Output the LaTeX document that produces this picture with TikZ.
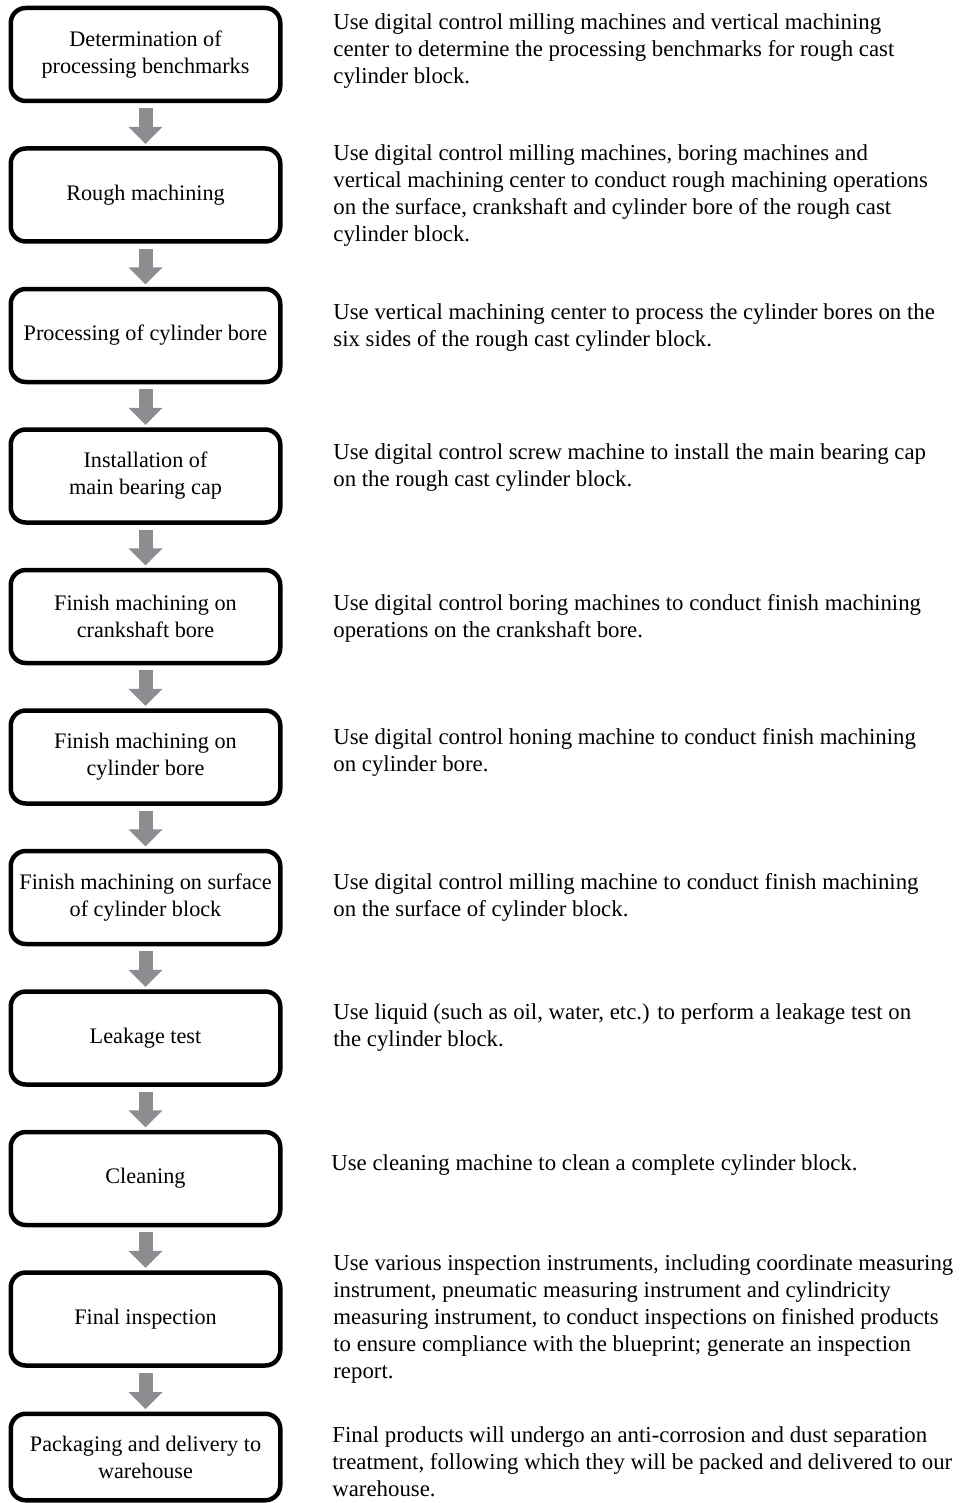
\documentclass[tikz,border=0pt]{standalone}
\usepackage{fontspec}
\setmainfont{Liberation Serif}
\usetikzlibrary{arrows.meta}

\definecolor{arrowgray}{RGB}{140,141,145}

\tikzset{
  stepbox/.style={draw, line width=2.25pt, rounded corners=7.5pt,
    minimum width=134.75pt, minimum height=46.5pt, align=center, inner sep=0pt,
    font=\fontsize{11.1}{13.5}\selectfont},
  desc/.style={anchor=north west, yshift=7pt, align=left, inner sep=0pt,
    execute at begin node=\strut, font=\fontsize{11.4}{13.5}\selectfont},
  flowarrow/.style={draw=arrowgray, line width=7pt,
    -{Triangle[width=16.5pt,length=8.5pt]}, shorten <=2.5pt, shorten >=1.2pt}
}

\begin{document}
\begin{tikzpicture}[x=0.5pt, y=-0.5pt]

  \useasboundingbox (0,0) rectangle (959,1503);

  % --- process steps (left column) ---
  \node[stepbox] (b1)  at (145.5,54.5)  {Determination of\\processing benchmarks};
  \node[stepbox] (b2)  at (145.5,195)   {Rough machining};
  \node[stepbox] (b3)  at (145.5,335.5) {Processing of cylinder bore};
  \node[stepbox] (b4)  at (145.5,476)   {Installation of\\main bearing cap};
  \node[stepbox] (b5)  at (145.5,616.5) {Finish machining on\\crankshaft bore};
  \node[stepbox] (b6)  at (145.5,757)   {Finish machining on\\cylinder bore};
  \node[stepbox] (b7)  at (145.5,897.5) {Finish machining on surface\\of cylinder block};
  \node[stepbox] (b8)  at (145.5,1038)  {Leakage test};
  \node[stepbox] (b9)  at (145.5,1178.5){Cleaning};
  \node[stepbox] (b10) at (145.5,1319)  {Final inspection};
  \node[stepbox, minimum height=43.25pt] (b11) at (145.5,1457) {Packaging and delivery to\\warehouse};

  % arrows between the steps
  \foreach \i/\j in {1/2,2/3,3/4,4/5,5/6,6/7,7/8,8/9,9/10,10/11}{
    \draw[flowarrow] (b\i.south) -- (b\j.north);
  }

  % --- descriptions (right column), placed by first baseline ---
  \node[desc] (d1)  at (333,27)   {Use digital control milling machines and vertical machining\\center to determine the processing benchmarks for rough cast\\cylinder block.};
  \node[desc] (d2)  at (333,158)  {Use digital control milling machines, boring machines and\\vertical machining center to conduct rough machining operations\\on the surface, crankshaft and cylinder bore of the rough cast\\cylinder block.};
  \node[desc] (d3)  at (333,317)  {Use vertical machining center to process the cylinder bores on the\\six sides of the rough cast cylinder block.};
  \node[desc] (d4)  at (333,457)  {Use digital control screw machine to install the main bearing cap\\on the rough cast cylinder block.};
  \node[desc] (d5)  at (333,608)  {Use digital control boring machines to conduct finish machining\\operations on the crankshaft bore.};
  \node[desc] (d6)  at (333,742)  {Use digital control honing machine to conduct finish machining\\on cylinder bore.};
  \node[desc] (d7)  at (333,887)  {Use digital control milling machine to conduct finish machining\\on the surface of cylinder block.};
  \node[desc] (d8)  at (333,1017) {Use liquid (such as oil, water, etc.) to perform a leakage test on\\the cylinder block.};
  \node[desc] (d9)  at (331,1165) {Use cleaning machine to clean a complete cylinder block.};
  \node[desc] (d10) at (333,1268) {Use various inspection instruments, including coordinate measuring\\instrument, pneumatic measuring instrument and cylindricity\\measuring instrument, to conduct inspections on finished products\\to ensure compliance with the blueprint; generate an inspection\\report.};
  \node[desc] (d11) at (332,1440) {Final products will undergo an anti-corrosion and dust separation\\treatment, following which they will be packed and delivered to our\\warehouse.};

\end{tikzpicture}
\end{document}
